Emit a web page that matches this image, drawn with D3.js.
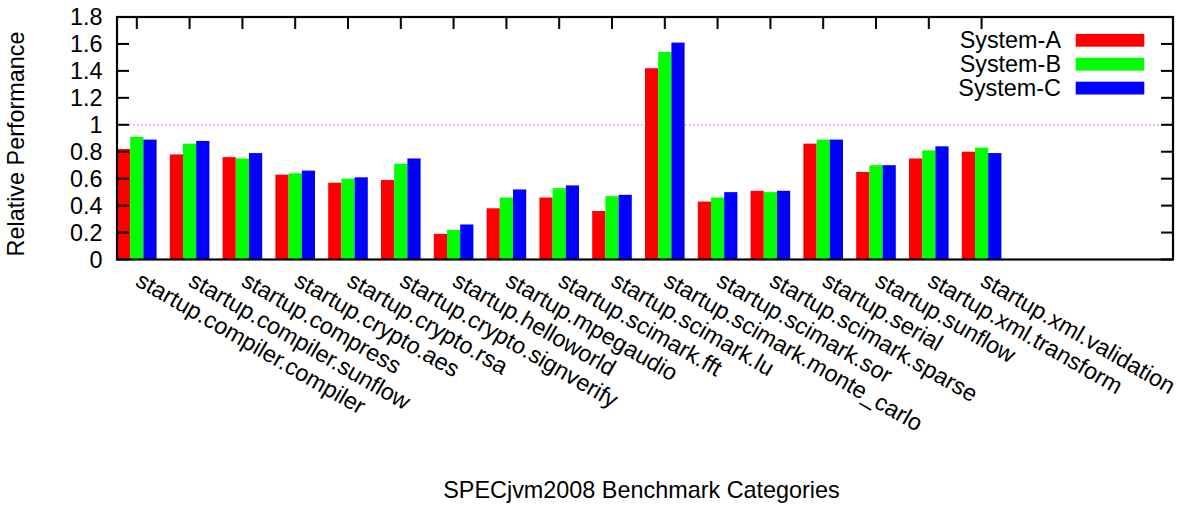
<!DOCTYPE html>
<html>
<head>
<meta charset="utf-8">
<script src="https://cdn.jsdelivr.net/npm/d3@7/dist/d3.min.js"></script>
<style>
  html, body { margin: 0; padding: 0; background: #fff; }
  svg { display: block; }
  text { font-family: "Liberation Sans", Arial, Helvetica, sans-serif; fill: #000; }
</style>
</head>
<body>
<svg id="chart" width="1186" height="506"></svg>
<script>
// Benchmark categories (x axis)
const categories = [
  "startup.compiler.compiler", "startup.compiler.sunflow", "startup.compress",
  "startup.crypto.aes", "startup.crypto.rsa", "startup.crypto.signverify",
  "startup.helloworld", "startup.mpegaudio", "startup.scimark.fft",
  "startup.scimark.lu", "startup.scimark.monte_carlo", "startup.scimark.sor",
  "startup.scimark.sparse", "startup.serial", "startup.sunflow",
  "startup.xml.transform", "startup.xml.validation"
];

// Relative performance per system
const systemA = [0.82, 0.78, 0.76, 0.63, 0.57, 0.59, 0.19, 0.38, 0.46, 0.36, 1.42, 0.43, 0.51, 0.86, 0.65, 0.75, 0.80];
const systemB = [0.91, 0.86, 0.75, 0.64, 0.60, 0.71, 0.22, 0.46, 0.53, 0.47, 1.54, 0.46, 0.50, 0.89, 0.70, 0.81, 0.83];
const systemC = [0.89, 0.88, 0.79, 0.66, 0.61, 0.75, 0.26, 0.52, 0.55, 0.48, 1.61, 0.50, 0.51, 0.89, 0.70, 0.84, 0.79];

const seriesNames = ["System-A", "System-B", "System-C"];
const seriesColors = ["#ff0000", "#00ff00", "#0000ff"];
const yTicks = [0, 0.2, 0.4, 0.6, 0.8, 1, 1.2, 1.4, 1.6, 1.8];
const referenceLevel = 1;

const series = [systemA, systemB, systemC];

const svg = d3.select("#chart");
const plotLeft = 117, plotRight = 1173, plotTop = 17, plotBottom = 259.5;
const fontSize = 23.4;

// each category occupies one unit: three bars of 0.25 plus a 0.25 gap
const barW = 0.25;
const x = d3.scaleLinear().domain([-0.375, 19.625]).range([plotLeft, plotRight]);
const y = d3.scaleLinear().domain([0, 1.8]).range([plotBottom, plotTop]);

// reference line at 1.0
svg.append("line")
  .attr("x1", plotLeft).attr("x2", plotRight)
  .attr("y1", y(referenceLevel)).attr("y2", y(referenceLevel))
  .attr("stroke", "#ff00ff").attr("stroke-opacity", 0.65)
  .attr("stroke-width", 1.2).attr("stroke-dasharray", "1.5,2.5");

// bars
series.forEach((vals, s) => {
  svg.append("g").selectAll("rect")
    .data(vals)
    .join("rect")
    .attr("x", (d, i) => x(i - 0.375 + s * barW))
    .attr("width", x(barW) - x(0))
    .attr("y", d => y(d))
    .attr("height", d => y(0) - y(d))
    .attr("fill", seriesColors[s]);
});

// inward tick marks, drawn as thin filled rectangles
const tickLen = 12, tickW = 2;
const tickG = svg.append("g").attr("fill", "#000");
tickG.selectAll("rect.tl").data(yTicks).join("rect").attr("class", "tl")
  .attr("x", plotLeft).attr("y", d => y(d) - tickW / 2)
  .attr("width", tickLen).attr("height", tickW);
tickG.selectAll("rect.tr").data(yTicks).join("rect").attr("class", "tr")
  .attr("x", plotRight - tickLen).attr("y", d => y(d) - tickW / 2)
  .attr("width", tickLen).attr("height", tickW);
tickG.selectAll("rect.tt").data(d3.range(categories.length)).join("rect").attr("class", "tt")
  .attr("x", d => x(d) - tickW / 2).attr("y", plotTop)
  .attr("width", tickW).attr("height", tickLen);

// y tick labels
const yFmt = d => String(+d.toFixed(1));
svg.append("g").selectAll("text")
  .data(yTicks)
  .join("text")
  .attr("x", plotLeft - 14.5)
  .attr("y", d => y(d))
  .attr("dy", "0.36em")
  .attr("text-anchor", "end")
  .style("font-size", fontSize + "px")
  .text(yFmt);

// rotated category labels
svg.append("g").selectAll("text")
  .data(categories)
  .join("text")
  .attr("transform", (d, i) => `translate(${x(i) - 2.5},${plotBottom + 25.5}) rotate(30)`)
  .attr("text-anchor", "start")
  .style("font-size", fontSize + "px")
  .text(d => d);

// plot frame
svg.append("rect")
  .attr("x", plotLeft).attr("y", plotTop)
  .attr("width", plotRight - plotLeft).attr("height", plotBottom - plotTop)
  .attr("fill", "none").attr("stroke", "#000").attr("stroke-width", 2.2);

// legend
const legend = svg.append("g");
seriesNames.forEach((name, s) => {
  const cy = 40.3 + s * 23.9;
  legend.append("text")
    .attr("x", 1061).attr("y", cy + 7.8)
    .attr("text-anchor", "end")
    .style("font-size", fontSize + "px")
    .text(name);
  legend.append("rect")
    .attr("x", 1075.7).attr("y", cy - 6.4)
    .attr("width", 68.6).attr("height", 12.8)
    .attr("fill", seriesColors[s]);
});

// axis titles
svg.append("text")
  .attr("x", 641.5).attr("y", 498)
  .attr("text-anchor", "middle")
  .style("font-size", fontSize + "px")
  .text("SPECjvm2008 Benchmark Categories");

svg.append("text")
  .attr("transform", "translate(24,144) rotate(-90)")
  .attr("text-anchor", "middle")
  .style("font-size", fontSize + "px")
  .text("Relative Performance");
</script>
</body>
</html>
